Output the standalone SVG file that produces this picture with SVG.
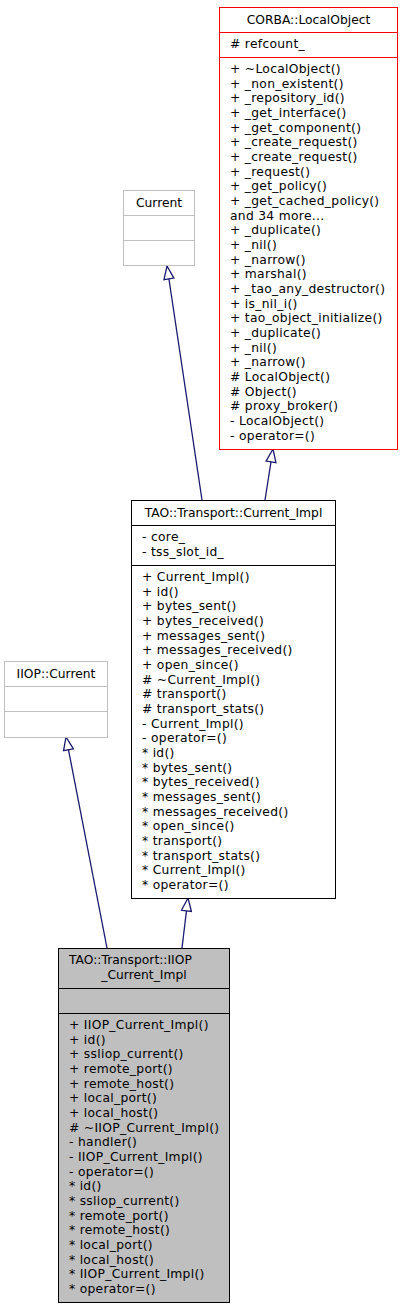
<svg xmlns="http://www.w3.org/2000/svg" width="403" height="1309" viewBox="0 0 403 1309">
<style>
text{font-family:"DejaVu Sans","Liberation Sans",sans-serif;font-size:12.3px;fill:#000}
.c{text-anchor:middle}
.m{letter-spacing:0.3px}
.box{fill:#fff;stroke:#000;stroke-width:1}
.red{fill:#fff;stroke:#ff0000;stroke-width:1}
.gray{fill:#fff;stroke:#bfbfbf;stroke-width:1}
.cur{fill:#bfbfbf;stroke:#000;stroke-width:1}
.sepk{stroke:#000;stroke-width:1}
.sepr{stroke:#ff0000;stroke-width:1}
.sepg{stroke:#bfbfbf;stroke-width:1}
.edge{fill:none;stroke:#191970;stroke-width:1.3}
</style>
<defs>
<marker id="inh" markerUnits="userSpaceOnUse" markerWidth="15" markerHeight="12" viewBox="0 0 15 12" refX="14" refY="6" orient="auto">
<path d="M1,1 L14,6 L1,11 Z" fill="#fff" stroke="#191970" stroke-width="1.3"/>
</marker>
</defs>
<g id="edges">
<line class="edge" x1="202" y1="500" x2="167" y2="266" marker-end="url(#inh)"/>
<line class="edge" x1="265" y1="500" x2="273" y2="449" marker-end="url(#inh)"/>
<line class="edge" x1="107" y1="948" x2="66" y2="737" marker-end="url(#inh)"/>
<line class="edge" x1="182" y1="948" x2="188" y2="898" marker-end="url(#inh)"/>
</g>
<g id="corba_localobject">
<rect class="red" x="219.5" y="7.5" width="178" height="442"/>
<line class="sepr" x1="219.5" y1="32.5" x2="397.5" y2="32.5"/>
<line class="sepr" x1="219.5" y1="57.5" x2="397.5" y2="57.5"/>
<text class="c" x="308.5" y="24">CORBA::LocalObject</text>
<text class="m" x="230" y="48"># refcount_</text>
<text class="m" x="230" y="73">
<tspan x="230" y="73">+ ~LocalObject()</tspan>
<tspan x="230" y="87.67">+ _non_existent()</tspan>
<tspan x="230" y="102.34">+ _repository_id()</tspan>
<tspan x="230" y="117.01">+ _get_interface()</tspan>
<tspan x="230" y="131.68">+ _get_component()</tspan>
<tspan x="230" y="146.35">+ _create_request()</tspan>
<tspan x="230" y="161.02">+ _create_request()</tspan>
<tspan x="230" y="175.69">+ _request()</tspan>
<tspan x="230" y="190.36">+ _get_policy()</tspan>
<tspan x="230" y="205.03">+ _get_cached_policy()</tspan>
<tspan x="230" y="219.7">and 34 more...</tspan>
<tspan x="230" y="234.37">+ _duplicate()</tspan>
<tspan x="230" y="249.04">+ _nil()</tspan>
<tspan x="230" y="263.71">+ _narrow()</tspan>
<tspan x="230" y="278.38">+ marshal()</tspan>
<tspan x="230" y="293.05">+ _tao_any_destructor()</tspan>
<tspan x="230" y="307.72">+ is_nil_i()</tspan>
<tspan x="230" y="322.39">+ tao_object_initialize()</tspan>
<tspan x="230" y="337.06">+ _duplicate()</tspan>
<tspan x="230" y="351.73">+ _nil()</tspan>
<tspan x="230" y="366.4">+ _narrow()</tspan>
<tspan x="230" y="381.07"># LocalObject()</tspan>
<tspan x="230" y="395.74"># Object()</tspan>
<tspan x="230" y="410.41"># proxy_broker()</tspan>
<tspan x="230" y="425.08">- LocalObject()</tspan>
<tspan x="230" y="439.75">- operator=()</tspan>
</text>
</g>
<g id="current">
<rect class="gray" x="123.5" y="190.5" width="71" height="75"/>
<line class="sepg" x1="123.5" y1="215.5" x2="194.5" y2="215.5"/>
<line class="sepg" x1="123.5" y1="240.5" x2="194.5" y2="240.5"/>
<text class="c" x="159" y="207">Current</text>
</g>
<g id="iiop_current">
<rect class="gray" x="4.5" y="661.5" width="103" height="76"/>
<line class="sepg" x1="4.5" y1="686.5" x2="107.5" y2="686.5"/>
<line class="sepg" x1="4.5" y1="711.5" x2="107.5" y2="711.5"/>
<text class="c" x="56" y="678">IIOP::Current</text>
</g>
<g id="current_impl">
<rect class="box" x="131.5" y="500.5" width="204" height="398"/>
<line class="sepk" x1="131.5" y1="525.5" x2="335.5" y2="525.5"/>
<line class="sepk" x1="131.5" y1="565.5" x2="335.5" y2="565.5"/>
<text class="c" x="233.5" y="517">TAO::Transport::Current_Impl</text>
<text class="m" x="142" y="541">
<tspan x="142" y="541">- core_</tspan>
<tspan x="142" y="555.67">- tss_slot_id_</tspan>
</text>
<text class="m" x="142" y="581">
<tspan x="142" y="581">+ Current_Impl()</tspan>
<tspan x="142" y="595.67">+ id()</tspan>
<tspan x="142" y="610.34">+ bytes_sent()</tspan>
<tspan x="142" y="625.01">+ bytes_received()</tspan>
<tspan x="142" y="639.68">+ messages_sent()</tspan>
<tspan x="142" y="654.35">+ messages_received()</tspan>
<tspan x="142" y="669.02">+ open_since()</tspan>
<tspan x="142" y="683.69"># ~Current_Impl()</tspan>
<tspan x="142" y="698.36"># transport()</tspan>
<tspan x="142" y="713.03"># transport_stats()</tspan>
<tspan x="142" y="727.7">- Current_Impl()</tspan>
<tspan x="142" y="742.37">- operator=()</tspan>
<tspan x="142" y="757.04">* id()</tspan>
<tspan x="142" y="771.71">* bytes_sent()</tspan>
<tspan x="142" y="786.38">* bytes_received()</tspan>
<tspan x="142" y="801.05">* messages_sent()</tspan>
<tspan x="142" y="815.72">* messages_received()</tspan>
<tspan x="142" y="830.39">* open_since()</tspan>
<tspan x="142" y="845.06">* transport()</tspan>
<tspan x="142" y="859.73">* transport_stats()</tspan>
<tspan x="142" y="874.4">* Current_Impl()</tspan>
<tspan x="142" y="889.07">* operator=()</tspan>
</text>
</g>
<g id="iiop_current_impl">
<rect class="cur" x="58.5" y="948.5" width="171" height="354"/>
<line class="sepk" x1="58.5" y1="988.5" x2="229.5" y2="988.5"/>
<line class="sepk" x1="58.5" y1="1013.5" x2="229.5" y2="1013.5"/>
<text x="69" y="964">TAO::Transport::IIOP</text>
<text class="c" x="144" y="979">_Current_Impl</text>
<text class="m" x="69" y="1029">
<tspan x="69" y="1029">+ IIOP_Current_Impl()</tspan>
<tspan x="69" y="1043.67">+ id()</tspan>
<tspan x="69" y="1058.34">+ ssliop_current()</tspan>
<tspan x="69" y="1073.01">+ remote_port()</tspan>
<tspan x="69" y="1087.68">+ remote_host()</tspan>
<tspan x="69" y="1102.35">+ local_port()</tspan>
<tspan x="69" y="1117.02">+ local_host()</tspan>
<tspan x="69" y="1131.69"># ~IIOP_Current_Impl()</tspan>
<tspan x="69" y="1146.36">- handler()</tspan>
<tspan x="69" y="1161.03">- IIOP_Current_Impl()</tspan>
<tspan x="69" y="1175.7">- operator=()</tspan>
<tspan x="69" y="1190.37">* id()</tspan>
<tspan x="69" y="1205.04">* ssliop_current()</tspan>
<tspan x="69" y="1219.71">* remote_port()</tspan>
<tspan x="69" y="1234.38">* remote_host()</tspan>
<tspan x="69" y="1249.05">* local_port()</tspan>
<tspan x="69" y="1263.72">* local_host()</tspan>
<tspan x="69" y="1278.39">* IIOP_Current_Impl()</tspan>
<tspan x="69" y="1293.06">* operator=()</tspan>
</text>
</g>
</svg>
